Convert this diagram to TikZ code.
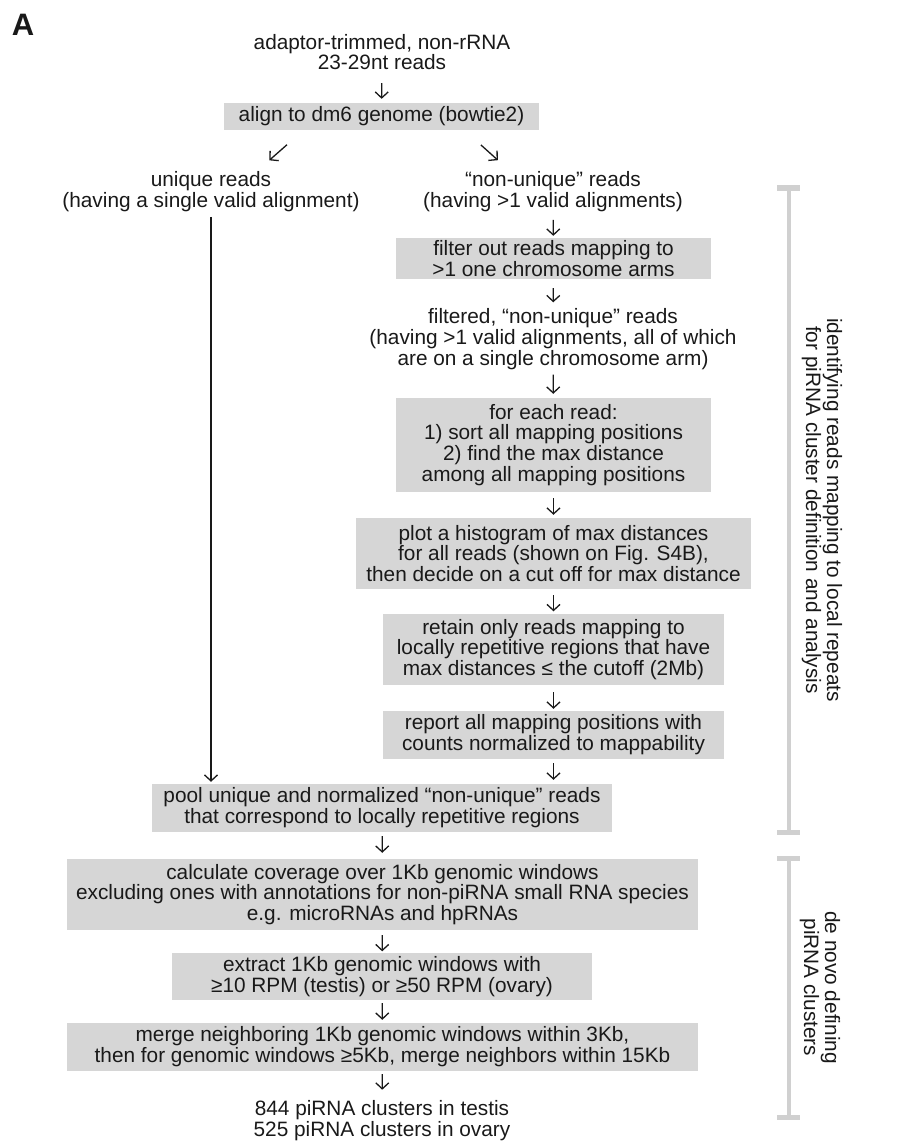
\documentclass[tikz,border=0pt]{standalone}
\usepackage{fontspec}
\setmainfont{Liberation Sans}
\usepackage{tikz}
\usetikzlibrary{positioning, arrows.meta, calc}
\definecolor{boxgray}{RGB}{214,214,214}
\definecolor{bargray}{RGB}{208,208,208}
\definecolor{ink}{RGB}{25,25,25}
\tikzstyle{bx}=[%
      rectangle, draw=none, fill=boxgray, text=ink,
      align=center, inner sep=1pt
]
\tikzstyle{tx}=[%
      rectangle, draw=none, fill=none, text=ink,
      align=center, inner sep=1pt
]
\tikzstyle{flow}=[%
      ->, draw=ink, line width=1.3pt
]
\tikzstyle{brk}=[%
      draw=bargray, line width=4pt
]

\begin{document}
\begin{tikzpicture}[x=1pt, y=-1pt,
    >={Straight Barb[length=6pt,width=13pt]},
    font=\fontsize{20.8}{20.8}\selectfont
  ]
    \useasboundingbox (0,0) rectangle (916,1142);
    \node[tx, font=\fontsize{31}{31}\selectfont\bfseries] (lbl) at (23,25) {A};

    % input and alignment
    \node[tx] (in) at (382,52) {adaptor-trimmed, non-rRNA\\23-29nt reads};
    \node[bx, minimum width=315, minimum height=27] (align) at (381.5,116.5) {align to dm6 genome (bowtie2)};
    \node[tx] (uniq) at (211,191.5) {unique reads\\(having a single valid alignment)};
    \node[tx] (nonuniq) at (553,191.5) {“non-unique” reads\\(having >1 valid alignments)};

    % non-unique branch
    \node[bx, minimum width=315, minimum height=41] (filter) at (553.5,258.5) {filter out reads mapping to\\>1 one chromosome arms};
    \node[tx] (filt) at (553,339) {filtered, “non-unique” reads\\(having >1 valid alignments, all of which\\are on a single chromosome arm)};
    \node[bx, minimum width=315, minimum height=94] (each) at (553.5,445) {for each read:\\1) sort all mapping positions\\2) find the max distance\\among all mapping positions};
    \node[bx, minimum width=395, minimum height=71] (hist) at (553.5,553.5) {plot a histogram of max distances\\for all reads (shown on Fig. S4B),\\then decide on a cut off for max distance};
    \node[bx, minimum width=341, minimum height=71] (retain) at (553.5,649.5) {retain only reads mapping to\\locally repetitive regions that have\\max distances ≤ the cutoff (2Mb)};
    \node[bx, minimum width=341, minimum height=48] (report) at (553.5,735) {report all mapping positions with\\counts normalized to mappability};

    % pooling and cluster calling
    \node[bx, minimum width=460, minimum height=48] (pool) at (382,808) {pool unique and normalized “non-unique” reads\\that correspond to locally repetitive regions};
    \node[bx, minimum width=631, minimum height=71] (cov) at (382.5,894.5) {calculate coverage over 1Kb genomic windows\\excluding ones with annotations for non-piRNA small RNA species\\e.g. microRNAs and hpRNAs};
    \node[bx, minimum width=420, minimum height=47] (extract) at (382,976.5) {extract 1Kb genomic windows with\\≥10 RPM (testis) or ≥50 RPM (ovary)};
    \node[bx, minimum width=631, minimum height=48] (merge) at (382.5,1047) {merge neighboring 1Kb genomic windows within 3Kb,\\then for genomic windows ≥5Kb, merge neighbors within 15Kb};
    \node[tx] (out) at (382,1121) {844 piRNA clusters in testis\\525 piRNA clusters in ovary};

    \draw[flow, shorten <=12pt, shorten >=4pt] (in) -- (align);
    \draw[flow, shorten <=22pt, shorten >=15pt] ([xshift=-78pt]align.south) -- ([xshift=47pt]uniq.north);
    \draw[flow, shorten <=22pt, shorten >=15pt] ([xshift=83pt]align.south) -- ([xshift=-44pt]nonuniq.north);
    \draw[flow, shorten <=4pt, shorten >=2pt] (uniq.south) -- (uniq.south |- pool.north);
    \draw[flow, shorten <=7pt, shorten >=2pt] (nonuniq) -- (filter);
    \draw[flow, shorten <=9pt, shorten >=5pt] (filter) -- (filt);
    \draw[flow, shorten <=4pt, shorten >=4pt] (filt) -- (each);
    \draw[flow, shorten <=6pt, shorten >=3pt] (each) -- (hist);
    \draw[flow, shorten <=6pt, shorten >=2.5pt] (hist) -- (retain);
    \draw[flow, shorten <=7pt, shorten >=2pt] (retain) -- (report);
    \draw[flow, shorten <=4pt, shorten >=4pt] (report.south) -- (report.south |- pool.north);
    \draw[flow, shorten <=4pt, shorten >=6pt] (pool) -- (cov);
    \draw[flow, shorten <=5pt, shorten >=1.5pt] (cov) -- (extract);
    \draw[flow, shorten <=3pt, shorten >=3pt] (extract) -- (merge);
    \draw[flow, shorten <=3pt, shorten >=10pt] (merge) -- (out);

    % side brackets
    \draw[brk] (788.5,188) -- (788.5,832);
    \draw[brk, line width=5pt] (777,188) -- (800,188) (777,832) -- (800,832);
    \node[tx, rotate=-90] (side1) at (822,510) {identifying reads mapping to local repeats\\for piRNA cluster definition and analysis};
    \draw[brk] (788.5,858) -- (788.5,1117);
    \draw[brk, line width=5pt] (777,858) -- (800,858) (777,1117) -- (800,1117);
    \node[tx, rotate=-90] (side2) at (820,987.5) {de novo defining\\piRNA clusters};
  \end{tikzpicture}
\end{document}
